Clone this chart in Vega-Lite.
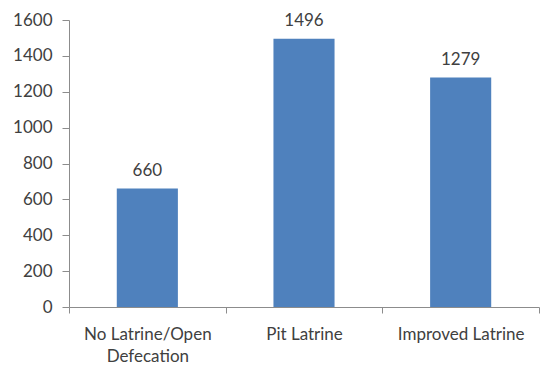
{
  "$schema": "https://vega.github.io/schema/vega-lite/v6.json",
  "autosize": "none",
  "width": 470,
  "height": 287,
  "padding": {"left": 69, "top": 20, "right": 1, "bottom": 60},
  "background": "white",
  "data": {"values": [
    {"category": "No Latrine/Open Defecation", "value": 660},
    {"category": "Pit Latrine", "value": 1496},
    {"category": "Improved Latrine", "value": 1279}
  ]},
  "config": {
    "view": {"stroke": null},
    "font": "Lato"
  },
  "encoding": {
    "x": {
      "field": "category", "type": "nominal", "sort": null,
      "scale": {"paddingInner": 0, "paddingOuter": 0},
      "axis": {
        "title": null, "labelAngle": 0, "tickBand": "extent",
        "domainColor": "#8c8c8c", "tickColor": "#8c8c8c", "tickSize": 6,
        "labelFontSize": 17, "labelColor": "#404040", "labelPadding": 13,
        "labelLineHeight": 22,
        "labelExpr": "datum.label == 'No Latrine/Open Defecation' ? ['No Latrine/Open', 'Defecation'] : datum.label"
      }
    },
    "y": {
      "field": "value", "type": "quantitative",
      "scale": {"domain": [0, 1600], "nice": false},
      "axis": {
        "title": null, "grid": false, "values": [0,200,400,600,800,1000,1200,1400,1600],
        "format": "d",
        "domainColor": "#8c8c8c", "tickColor": "#8c8c8c", "tickSize": 7,
        "labelFontSize": 17, "labelColor": "#404040", "labelPadding": 10
      }
    }
  },
  "layer": [
    {"mark": {"type": "bar", "color": "#4f81bd", "width": {"band": 0.39}}},
    {"mark": {"type": "text", "baseline": "alphabetic", "dy": -13, "fontSize": 17, "color": "#404040"},
     "encoding": {"text": {"field": "value", "type": "quantitative", "format": "d"}}}
  ]
}
